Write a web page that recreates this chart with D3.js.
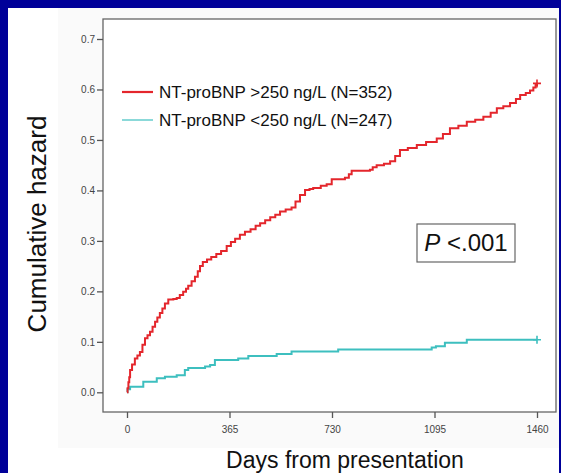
<!DOCTYPE html>
<html>
<head>
<meta charset="utf-8">
<script src="https://cdn.jsdelivr.net/npm/d3@7"></script>
<style>
  html, body { margin: 0; padding: 0; background: #000099; }
  svg { display: block; font-family: 'Liberation Sans', Arial, sans-serif; }
</style>
</head>
<body>
<svg id="chart" width="561" height="473"></svg>
<script>
'use strict'

// tick values
const xTicks = [0, 365, 730, 1095, 1460]
const yTicks = [0, 0.1, 0.2, 0.3, 0.4, 0.5, 0.6, 0.7]

// NT-proBNP >250 ng/L, cumulative hazard (days, hazard)
const highDays = [0, 2, 5, 8, 11, 18, 28, 37, 46, 55, 64, 73, 82, 91, 100, 108, 117, 126, 135, 147, 165, 177, 188, 200, 210, 218, 230, 242, 252, 260, 270, 285, 300, 318, 335, 355, 370, 385, 402, 420, 440, 458, 474, 492, 510, 528, 545, 565, 586, 600, 616, 634, 650, 663, 690, 711, 729, 776, 790, 800, 865, 875, 889, 915, 937, 955, 972, 1000, 1032, 1065, 1103, 1125, 1150, 1180, 1210, 1240, 1269, 1295, 1317, 1340, 1364, 1385, 1400, 1420, 1435, 1447, 1455, 1460]
const highHazard = [0, 0.008, 0.02, 0.03, 0.044, 0.055, 0.067, 0.073, 0.08, 0.094, 0.107, 0.113, 0.12, 0.13, 0.14, 0.148, 0.157, 0.166, 0.176, 0.184, 0.185, 0.187, 0.193, 0.199, 0.205, 0.211, 0.22, 0.229, 0.24, 0.25, 0.258, 0.263, 0.268, 0.274, 0.28, 0.29, 0.298, 0.304, 0.312, 0.318, 0.323, 0.33, 0.335, 0.341, 0.347, 0.352, 0.358, 0.362, 0.366, 0.378, 0.391, 0.401, 0.403, 0.405, 0.409, 0.412, 0.422, 0.425, 0.432, 0.439, 0.441, 0.446, 0.45, 0.453, 0.458, 0.468, 0.48, 0.484, 0.49, 0.496, 0.503, 0.512, 0.523, 0.528, 0.536, 0.54, 0.546, 0.554, 0.563, 0.567, 0.573, 0.581, 0.589, 0.593, 0.598, 0.604, 0.609, 0.612]

// NT-proBNP <250 ng/L
const lowDays = [0, 2, 11, 58, 106, 135, 177, 206, 218, 278, 296, 313, 396, 432, 533, 586, 752, 1085, 1100, 1132, 1210, 1460]
const lowHazard = [0, 0.006, 0.011, 0.021, 0.028, 0.031, 0.034, 0.044, 0.048, 0.051, 0.054, 0.064, 0.067, 0.072, 0.076, 0.081, 0.085, 0.089, 0.091, 0.098, 0.104, 0.104]

const seriesNames = ['NT-proBNP >250 ng/L (N=352)', 'NT-proBNP <250 ng/L (N=247)']
const pValue = '<.001'

class HazardChart {

    constructor(element) { this.svg = element }

    render() {
        let svg = this.svg
        let frame = { left: 103, top: 19, right: 556, bottom: 412 }
        let colors = ['#e4262c', '#3dbfbf']

        svg.append('rect').attr('width', 561).attr('height', 473).attr('fill', '#000099')
        svg.append('rect').attr('x', 8).attr('y', 8).attr('width', 551).attr('height', 465).attr('fill', '#ffffff')
        svg.append('rect').attr('x', 58).attr('y', 8).attr('width', 501).attr('height', 440).attr('fill', '#fafafa')

        let x = d3.scaleLinear().domain([0, 1460]).range([127, 537])
        let y = d3.scaleLinear().domain([0, 0.7]).range([392.3, 39])

        svg.append('rect')
            .attr('x', frame.left).attr('y', frame.top)
            .attr('width', frame.right - frame.left).attr('height', frame.bottom - frame.top)
            .attr('fill', '#ffffff').attr('stroke', '#666').attr('stroke-width', 1.3)

        let yAxis = svg.append('g')
            .attr('transform', `translate(${frame.left}, 0)`)
            .call(d3.axisLeft(y).tickValues(yTicks).tickFormat(d3.format('.1f')).tickSize(6).tickPadding(2))
        yAxis.select('.domain').remove()
        yAxis.selectAll('line').attr('stroke', '#555').attr('stroke-width', 1.3)
        yAxis.selectAll('text').attr('fill', '#444').attr('font-size', '10px').attr('font-family', "'Liberation Sans', Arial, sans-serif")

        let xAxis = svg.append('g')
            .attr('transform', `translate(0, ${frame.bottom})`)
            .call(d3.axisBottom(x).tickValues(xTicks).tickFormat(d3.format('d')).tickSize(6).tickPadding(8))
        xAxis.select('.domain').remove()
        xAxis.selectAll('line').attr('stroke', '#555').attr('stroke-width', 1.3)
        xAxis.selectAll('text').attr('fill', '#444').attr('font-size', '10px').attr('font-family', "'Liberation Sans', Arial, sans-serif")

        let line = d3.line().x(d => x(d[0])).y(d => y(d[1])).curve(d3.curveStepAfter)
        let series = [
            d3.zip(highDays, highHazard),
            d3.zip(lowDays, lowHazard)
        ]

        // low first so the red sits on top near the origin
        series.slice().reverse().forEach((s, i) => {
            let c = colors[1 - i]
            svg.append('path').datum(s).attr('d', line)
                .attr('fill', 'none').attr('stroke', c).attr('stroke-width', 2)
            // censor mark at the end of follow-up
            let last = s[s.length - 1]
            svg.append('path')
                .attr('d', 'M-4,0H4M0,-4V4')
                .attr('transform', `translate(${x(last[0])}, ${y(last[1])})`)
                .attr('fill', 'none').attr('stroke', c).attr('stroke-width', 1.6)
        })

        // legend
        let legend = svg.append('g').selectAll('g').data(seriesNames).enter().append('g')
            .attr('transform', (d, i) => `translate(122, ${92 + i * 28})`)
        legend.append('line').attr('x1', 0).attr('x2', 31).attr('y1', 0).attr('y2', 0)
            .attr('stroke', (d, i) => colors[i]).attr('stroke-width', (d, i) => i === 0 ? 2.2 : 1.2)
        legend.append('text').attr('x', 37).attr('dy', '0.35em')
            .attr('font-size', '17px').attr('fill', '#111').text(d => d)

        // p-value box
        svg.append('rect').attr('x', 417).attr('y', 224).attr('width', 98).attr('height', 38)
            .attr('fill', '#ffffff').attr('stroke', '#666').attr('stroke-width', 1.2)
        let p = svg.append('text').attr('x', 466).attr('y', 251).attr('text-anchor', 'middle')
            .attr('font-size', '24px').attr('fill', '#111')
        p.append('tspan').attr('font-style', 'italic').text('P')
        p.append('tspan').text(' ' + pValue)

        // axis titles
        svg.append('text').attr('x', 345).attr('y', 468).attr('text-anchor', 'middle')
            .attr('font-size', '23px').attr('fill', '#111').text('Days from presentation')
        svg.append('text').attr('transform', 'translate(46, 224) rotate(-90)').attr('text-anchor', 'middle')
            .attr('font-size', '26px').attr('fill', '#111').text('Cumulative hazard')
    }

}

new HazardChart(d3.select('#chart')).render()
</script>
</body>
</html>
